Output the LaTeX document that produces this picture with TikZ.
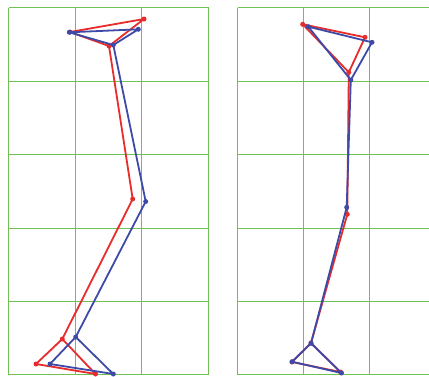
\documentclass[tikz,border=0pt]{standalone}
\begin{document}
\begin{tikzpicture}[x=1pt,y=-1pt,
  gridline/.style={draw={rgb,255:red,112;green,192;blue,82}, line width=1.5pt},
  redleg/.style={draw={rgb,255:red,232;green,44;blue,44}, line width=1.8pt, line join=round},
  blueleg/.style={draw={rgb,255:red,62;green,74;blue,168}, line width=1.8pt, line join=round},
  reddot/.style={circle, inner sep=0pt, minimum size=5pt, fill={rgb,255:red,232;green,44;blue,44}},
  bluedot/.style={circle, inner sep=0pt, minimum size=5pt, fill={rgb,255:red,62;green,74;blue,168}}]
\useasboundingbox[fill=white] (0,0) rectangle (429,376);
% left grid
\foreach \x in {8.5,75.5,141.5,208.5} \draw[gridline] (\x,7.5) -- (\x,374.5);
\foreach \y in {7.5,81.5,154.5,228.5,301.5,374.5} \draw[gridline] (8.5,\y) -- (208.5,\y);
% right grid
\foreach \x in {237.5,303.5,369.5} \draw[gridline] (\x,7.5) -- (\x,374.5);
\foreach \y in {7.5,81.5,154.5,228.5,301.5,374.5} \draw[gridline] (237.5,\y) -- (429,\y);
% left red
\node[reddot] (lrA) at (144,19) {};
\node[reddot] (lrB) at (70,32) {};
\node[reddot] (lrC) at (109,46) {};
\node[reddot] (lrD) at (132.7,199) {};
\node[reddot] (lrE) at (62.3,339) {};
\node[reddot] (lrF) at (36,364) {};
\node[reddot] (lrG) at (95.5,374) {};
\draw[redleg] (lrA.center) -- (lrB.center) -- (lrC.center) -- cycle;
\draw[redleg] (lrC.center) -- (lrD.center) -- (lrE.center) -- (lrF.center) -- (lrG.center) -- (lrE.center);
% left blue
\node[bluedot] (lbA) at (138.3,29.3) {};
\node[bluedot] (lbB) at (69.3,32.3) {};
\node[bluedot] (lbC) at (113.3,45) {};
\node[bluedot] (lbD) at (145.7,201.5) {};
\node[bluedot] (lbE) at (75.7,337) {};
\node[bluedot] (lbF) at (50,364) {};
\node[bluedot] (lbG) at (113.3,374) {};
\draw[blueleg] (lbA.center) -- (lbB.center) -- (lbC.center) -- cycle;
\draw[blueleg] (lbC.center) -- (lbD.center) -- (lbE.center) -- (lbF.center) -- (lbG.center) -- (lbE.center);
% right red
\node[reddot] (rrA) at (302.7,24.3) {};
\node[reddot] (rrB) at (365,37.3) {};
\node[reddot] (rrC) at (348.8,72.3) {};
\node[reddot] (rrD) at (347.3,214.3) {};
\node[reddot] (rrE) at (311,343) {};
\node[reddot] (rrF) at (292,362) {};
\node[reddot] (rrG) at (340.5,372) {};
\draw[redleg] (rrA.center) -- (rrB.center) -- (rrC.center) -- cycle;
\draw[redleg] (rrC.center) -- (rrD.center) -- (rrE.center) -- (rrF.center) -- (rrG.center) -- (rrE.center);
% right blue
\node[bluedot] (rbA) at (308.3,26.7) {};
\node[bluedot] (rbB) at (372,42.3) {};
\node[bluedot] (rbC) at (350.8,80) {};
\node[bluedot] (rbD) at (346.7,207.3) {};
\node[bluedot] (rbE) at (311,343.3) {};
\node[bluedot] (rbF) at (292,361.7) {};
\node[bluedot] (rbG) at (341.5,373) {};
\draw[blueleg] (rbA.center) -- (rbB.center) -- (rbC.center) -- cycle;
\draw[blueleg] (rbC.center) -- (rbD.center) -- (rbE.center) -- (rbF.center) -- (rbG.center) -- (rbE.center);
\end{tikzpicture}
\end{document}
